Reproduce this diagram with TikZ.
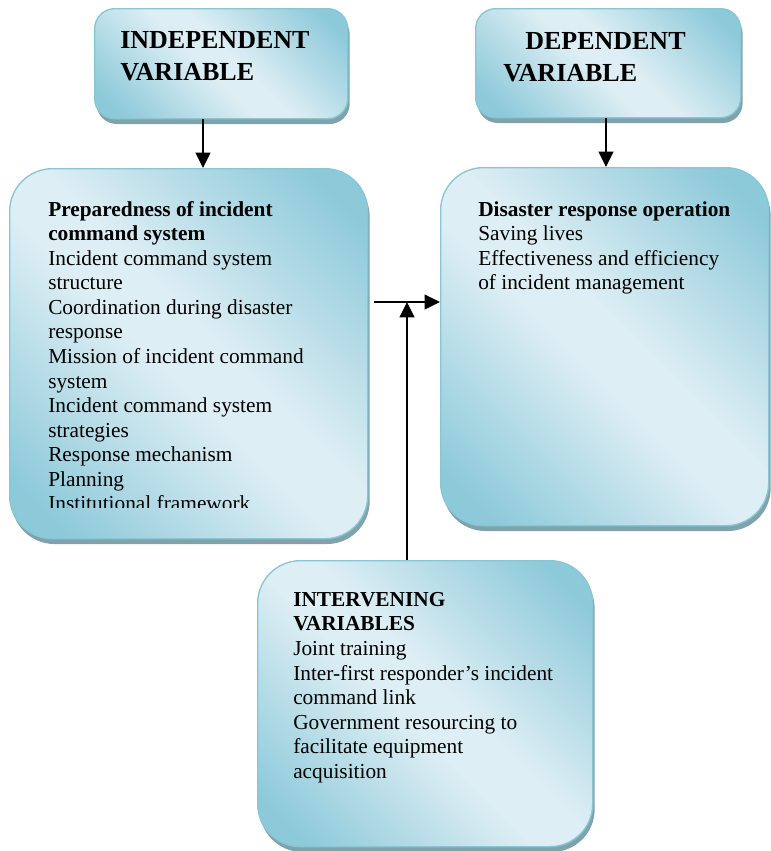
\documentclass[tikz,border=0pt]{standalone}
\usepackage{fontspec}
\setmainfont{Liberation Serif}
\usetikzlibrary{arrows.meta,shadows,positioning}
\definecolor{boxdark}{RGB}{140,201,217}
\definecolor{boxlight}{RGB}{221,238,244}
\definecolor{boxedge}{RGB}{136,198,214}
\definecolor{boxshadow}{RGB}{128,163,171}
\pgfdeclareverticalshading{varshade}{100bp}{color(0bp)=(boxdark); color(20bp)=(boxdark);
  color(46bp)=(boxlight); color(54bp)=(boxlight); color(80bp)=(boxdark); color(100bp)=(boxdark)}
\tikzset{
  every picture/.append style={line join=round},
  var box/.style={draw=boxedge,line width=1pt,shading=varshade,shading angle=-45,
    drop shadow={shadow xshift=1.5pt,shadow yshift=-4pt,fill=boxshadow,opacity=1},
    inner sep=0pt,anchor=north west},
  head box/.style={var box,rounded corners=15pt},
  body box/.style={var box,rounded corners=32pt},
  head text/.style={font=\fontsize{19.5}{24}\selectfont\bfseries,align=left,inner sep=0pt,anchor=north west},
  body text/.style={font=\fontsize{16}{18.4}\selectfont,align=left,inner sep=0pt,anchor=north west},
  var arrow/.style={line width=1.4pt,-{Triangle[length=11.5pt,width=11pt]}}
}
\begin{document}
\begin{tikzpicture}[x=0.75pt,y=-0.75pt]
\useasboundingbox (0,0) rectangle (771,851);
% headings
\node[head box,minimum width=189.75pt,minimum height=82.5pt] (indep) at (94,8) {};
\node[head box,minimum width=198.75pt,minimum height=81.75pt] (dep) at (475,8) {};
\node[head text] (indeptext) at (120,31) {INDEPENDENT\\VARIABLE};
\node[head text] (deptext) at (503,32) {\hspace*{16.5pt}DEPENDENT\\VARIABLE};

% variable boxes
\node[body box,minimum width=268.5pt,minimum height=277.5pt] (prep) at (9,168) {};
\node[body box,minimum width=246pt,minimum height=268.5pt] (resp) at (440,167) {};
\node[body box,minimum width=251.25pt,minimum height=214.5pt] (inter) at (257,560) {};

\begin{scope}
\clip (0,0) rectangle (771,507);
\node[body text] (preptext) at (48,201) {\textbf{Preparedness of incident}\\
  \textbf{command system}\\
  Incident command system\\
  structure\\
  Coordination during disaster\\
  response\\
  Mission of incident command\\
  system\\
  Incident command system\\
  strategies\\
  Response mechanism\\
  Planning\\
  Institutional framework};
\end{scope}
\node[body text] (resptext) at (478,201) {\textbf{Disaster response operation}\\
  Saving lives\\
  Effectiveness and efficiency\\
  of incident management};
\node[body text] (intertext) at (293,592) {\textbf{INTERVENING}\\
  \textbf{VARIABLES}\\
  Joint training\\
  Inter-first responder's incident\\
  command link\\
  Government resourcing to\\
  facilitate equipment\\
  acquisition};

% arrows
\coordinate (join) at (407,302);
\draw[var arrow] (203,0 |- indep.south) -- (203,0 |- prep.north);
\draw[var arrow] (606,0 |- dep.south) -- (606,0 |- resp.north);
\draw[var arrow] (prep.east |- join) ++(6,0) -- (resp.west |- join);
\draw[var arrow] (inter.north -| join) -- (join);
\end{tikzpicture}
\end{document}
